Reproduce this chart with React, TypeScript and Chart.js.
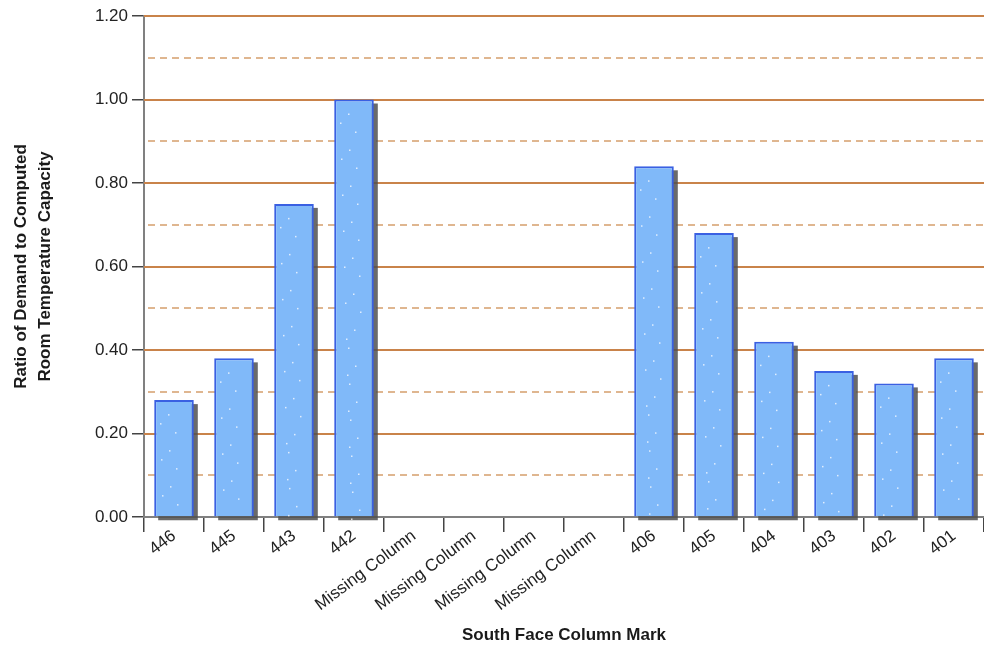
import React, { useEffect, useRef } from 'react';
import { Chart, registerables } from 'chart.js';

Chart.register(...registerables);

const categories = [
  '446', '445', '443', '442',
  'Missing Column', 'Missing Column', 'Missing Column', 'Missing Column',
  '406', '405', '404', '403', '402', '401',
];
const ratios: (number | null)[] = [
  0.28, 0.38, 0.75, 1.0,
  null, null, null, null,
  0.84, 0.68, 0.42, 0.35, 0.32, 0.38,
];
const yTitle = ['Ratio of Demand to Computed', 'Room Temperature Capacity'];
const xTitle = 'South Face Column Mark';
const yMin = 0;
const yMax = 1.2;
const yStep = 0.2;

const FONT = "'Liberation Sans', Arial, Helvetica, sans-serif";

const decorPlugin = {
  id: 'decor',
  beforeDatasetsDraw(chart: any) {
    const { ctx, chartArea, scales } = chart;
    const y = scales.y;
    ctx.save();
    const ticks = y.ticks.map((t: any) => t.value);
    for (let i = 0; i < ticks.length; i++) {
      const v = ticks[i];
      if (v > yMin) {
        const py = Math.round(y.getPixelForValue(v));
        ctx.setLineDash([]);
        ctx.strokeStyle = '#c9834a';
        ctx.lineWidth = 2;
        ctx.beginPath();
        ctx.moveTo(chartArea.left, py);
        ctx.lineTo(chartArea.right, py);
        ctx.stroke();
      }
      if (i > 0) {
        const mid = (ticks[i - 1] + v) / 2;
        const pm = Math.round(y.getPixelForValue(mid));
        ctx.setLineDash([7, 5]);
        ctx.strokeStyle = '#dfb690';
        ctx.lineWidth = 2;
        ctx.beginPath();
        ctx.moveTo(chartArea.left + 4, pm);
        ctx.lineTo(chartArea.right, pm);
        ctx.stroke();
      }
    }
    ctx.setLineDash([]);
    const meta = chart.getDatasetMeta(0);
    ctx.fillStyle = 'rgba(80,80,80,0.85)';
    meta.data.forEach((bar: any, i: number) => {
      if (ratios[i] == null) return;
      const { x, y: top, base, width } = bar.getProps(['x', 'y', 'base', 'width'], true);
      ctx.fillRect(x - width / 2 + 4, top + 4, width, base - top);
    });
    ctx.restore();
  },
  afterDatasetsDraw(chart: any) {
    const { ctx } = chart;
    const meta = chart.getDatasetMeta(0);
    ctx.save();
    ctx.fillStyle = 'rgba(255,255,255,0.75)';
    meta.data.forEach((bar: any, i: number) => {
      if (ratios[i] == null) return;
      const { x, y: top, base } = bar.getProps(['x', 'y', 'base', 'width'], true);
      let k = 0;
      for (let py = top + 14; py < base - 4; py += 18) {
        const ox = ((k * 7) % 13) - 6;
        ctx.fillRect(x + ox, py, 1.5, 1.5);
        if (k % 2 === 0) ctx.fillRect(x + ox - 8, py + 9, 1.5, 1.5);
        k++;
      }
    });
    ctx.restore();
  },
};

export default function App() {
  const ref = useRef<HTMLCanvasElement | null>(null);

  useEffect(() => {
    if (!ref.current) return;
    const chart = new Chart(ref.current, {
      type: 'bar',
      data: {
        labels: categories,
        datasets: [
          {
            data: ratios,
            backgroundColor: '#80b9f9',
            borderColor: '#3a60e2',
            borderWidth: 2,
            barPercentage: 0.66,
            categoryPercentage: 1,
          },
        ],
      },
      plugins: [decorPlugin],
      options: {
        responsive: false,
        animation: false,
        devicePixelRatio: 1,
        layout: { padding: { top: 16, right: 0, bottom: 0, left: 0 } },
        plugins: {
          legend: { display: false },
          tooltip: { enabled: false },
        },
        scales: {
          x: {
            grid: {
              display: true,
              drawOnChartArea: false,
              drawTicks: true,
              tickLength: 15,
              color: '#444',
              lineWidth: 1.5,
              offset: true,
            },
            border: { display: true, color: '#808080', width: 2 },
            ticks: {
              minRotation: 37,
              maxRotation: 37,
              autoSkip: false,
              padding: -6,
              color: '#222',
              font: { family: FONT, size: 17 },
            },
            title: {
              display: true,
              text: xTitle,
              color: '#1a1a1a',
              font: { family: FONT, size: 17, weight: 'bold' },
              padding: { top: 0, bottom: 5 },
            },
            afterFit(scale: any) {
              scale.height = 134;
            },
          },
          y: {
            min: yMin,
            max: yMax,
            ticks: {
              stepSize: yStep,
              padding: 4,
              color: '#222',
              font: { family: FONT, size: 17 },
              callback: (v: any) => Number(v).toFixed(2),
            },
            grid: {
              display: true,
              drawOnChartArea: false,
              drawTicks: true,
              tickLength: 12,
              color: '#444',
              lineWidth: 1.5,
            },
            border: { display: true, color: '#808080', width: 2 },
            title: {
              display: true,
              text: yTitle,
              color: '#1a1a1a',
              font: { family: FONT, size: 17, weight: 'bold', lineHeight: '24px' },
              padding: { top: 9, bottom: 0 },
            },
            afterFit(scale: any) {
              scale.width = 144;
            },
          },
        },
      } as any,
    });
    return () => chart.destroy();
  }, []);

  return (
    <div style={{ position: 'absolute', left: 0, top: 0, width: 984, height: 651, background: '#fff' }}>
      <canvas ref={ref} width={984} height={651} />
    </div>
  );
}
